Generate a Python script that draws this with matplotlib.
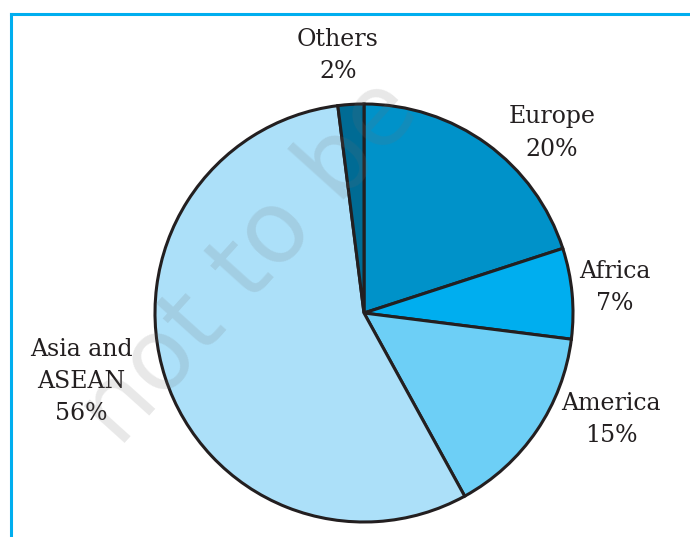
import matplotlib.pyplot as plt
from matplotlib.lines import Line2D

# data
regions = ['Europe', 'Africa', 'America', 'Asia and\nASEAN', 'Others']
shares = [20, 7, 15, 56, 2]
colors = ['#0092C9', '#00AEEF', '#6DCFF6', '#ACE0F9', '#006B94']

# layout (pixel-like coords, y up)
W, H = 690, 537
center = (364, 537 - 313)
radius = 209
label_pos = [(552, 537 - 133), (615, 537 - 288), (611, 537 - 420),
             (81, 537 - 381), (338, 537 - 56)]
ink = '#231F20'
frame_col = '#00AEEF'

fig = plt.figure(figsize=(6.9, 5.37), dpi=100)
ax = fig.add_axes([0, 0, 1, 1])

wedges, _ = ax.pie(shares, colors=colors, startangle=90, counterclock=False,
                   center=center, radius=radius, frame=True,
                   wedgeprops=dict(edgecolor=ink, linewidth=2.2))
ax.set_xlim(0, W)
ax.set_ylim(0, H)
ax.set_aspect('equal')
ax.axis('off')

for name, val, (x, y) in zip(regions, shares, label_pos):
    ax.text(x, y, f'{name}\n{val}%', ha='center', va='center',
            multialignment='center', family='DejaVu Serif', fontsize=17,
            color=ink, linespacing=1.5)

# faint watermark
ax.text(250, 537 - 262, 'not to be', rotation=48, fontsize=72,
        family='DejaVu Sans', color='#707070', alpha=0.16,
        ha='center', va='center', zorder=5)

# frame on top and left
ax.add_line(Line2D([11, 11], [0, 537 - 14], color=frame_col, lw=2.2))
ax.add_line(Line2D([11, W], [537 - 14, 537 - 14], color=frame_col, lw=2.2))

fig.savefig('out.png', dpi=100, facecolor='white')
